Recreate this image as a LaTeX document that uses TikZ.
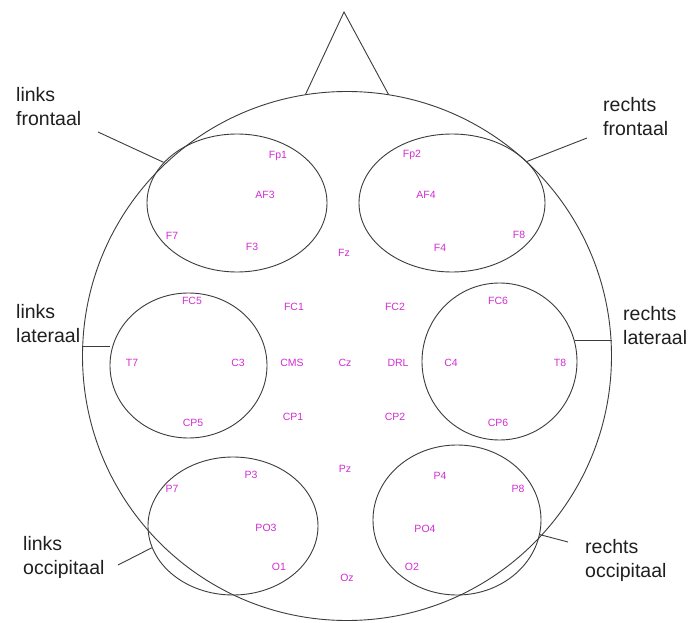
\documentclass[tikz,border=0pt]{standalone}
\usepackage{fontspec}
\setmainfont{Liberation Sans}
\usetikzlibrary{shapes.geometric}
\definecolor{elec}{RGB}{210,45,210}
\definecolor{ink}{RGB}{60,60,60}
\begin{document}
\begin{tikzpicture}[x=1pt,y=-1pt,
  outline/.style={draw=ink, line width=0.9pt},
  region/.style={outline, ellipse, inner sep=0pt},
  lead/.style={draw=ink, line width=0.9pt},
  elec/.style={text=elec, font=\fontsize{10.5}{12}\selectfont, inner sep=0pt},
  area/.style={font=\fontsize{19.5}{24}\selectfont, align=left, inner sep=0pt, anchor=base west, text=black!88}]
\useasboundingbox[fill=white] (0,0) rectangle (689,623);

% head and nose
\node[outline, circle, inner sep=0pt, minimum size=529pt] (head) at (347,356) {};
\coordinate (nosetip) at (344,12);
\draw[outline] (head.99.2) -- (nosetip) -- (head.81.7);

% regions
\node[region, minimum width=180pt, minimum height=138pt] (lf) at (237,203) {};
\node[region, minimum width=186pt, minimum height=138pt] (rf) at (452,203) {};
\node[region, minimum width=157pt, minimum height=145pt] (ll) at (188.5,365.5) {};
\node[region, minimum width=155pt, minimum height=157pt] (rl) at (499.5,361.5) {};
\node[region, minimum width=170pt, minimum height=138pt] (lo) at (233,526) {};
\node[region, minimum width=168pt, minimum height=150pt] (ro) at (457,520) {};

% region labels (anchor = baseline of the last line)
\node[area] (tlf) at (16,126) {links\\frontaal};
\node[area] (trf) at (603,136) {rechts\\frontaal};
\node[area] (tll) at (16,342) {links\\lateraal};
\node[area] (trl) at (623,344) {rechts\\lateraal};
\node[area] (tlo) at (23,574) {links\\occipitaal};
\node[area] (tro) at (585,577) {rechts\\occipitaal};

% leader lines
\coordinate (elf) at (98,132);
\coordinate (erf) at (587,138);
\coordinate (elo) at (118,565);
\coordinate (ero) at (568,542);
\draw[lead] (elf) -- (lf.151);
\draw[lead] (erf) -- (rf.29.5);
\draw[lead] (head.178.9) -- (head.178.9 -| ll.west);
\draw[lead] (rl.16.1) -- (rl.16.1 -| head.east);
\draw[lead] (elo) -- (lo.195.4);
\draw[lead] (ero) -- (ro.350.8);

% electrodes
\node[elec] (Fp1) at (278,156) {Fp1};
\node[elec] (AF3) at (265,195) {AF3};
\node[elec] (F7)  at (172,236) {F7};
\node[elec] (F3)  at (252,247) {F3};
\node[elec] (Fz)  at (344,253) {Fz};
\node[elec] (Fp2) at (412,155) {Fp2};
\node[elec] (AF4) at (426,195) {AF4};
\node[elec] (F4)  at (440,248) {F4};
\node[elec] (F8)  at (519,235) {F8};
\node[elec] (FC5) at (192,301) {FC5};
\node[elec] (FC1) at (294,307) {FC1};
\node[elec] (FC2) at (395,307) {FC2};
\node[elec] (FC6) at (498,301) {FC6};
\node[elec] (T7)  at (132,363) {T7};
\node[elec] (C3)  at (238,363) {C3};
\node[elec] (CMS) at (292,363) {CMS};
\node[elec] (Cz)  at (345,363) {Cz};
\node[elec] (DRL) at (398,363) {DRL};
\node[elec] (C4)  at (451,363) {C4};
\node[elec] (T8)  at (560,363) {T8};
\node[elec] (CP5) at (193,423) {CP5};
\node[elec] (CP1) at (293,417) {CP1};
\node[elec] (CP2) at (395,417) {CP2};
\node[elec] (CP6) at (498,423) {CP6};
\node[elec] (P3)  at (251,475) {P3};
\node[elec] (Pz)  at (345,469) {Pz};
\node[elec] (P4)  at (440,476) {P4};
\node[elec] (P7)  at (172,489) {P7};
\node[elec] (P8)  at (518,489) {P8};
\node[elec] (PO3) at (266,528) {PO3};
\node[elec] (PO4) at (425,529) {PO4};
\node[elec] (O1)  at (279,567) {O1};
\node[elec] (Oz)  at (347,578) {Oz};
\node[elec] (O2)  at (412,567) {O2};
\end{tikzpicture}
\end{document}
